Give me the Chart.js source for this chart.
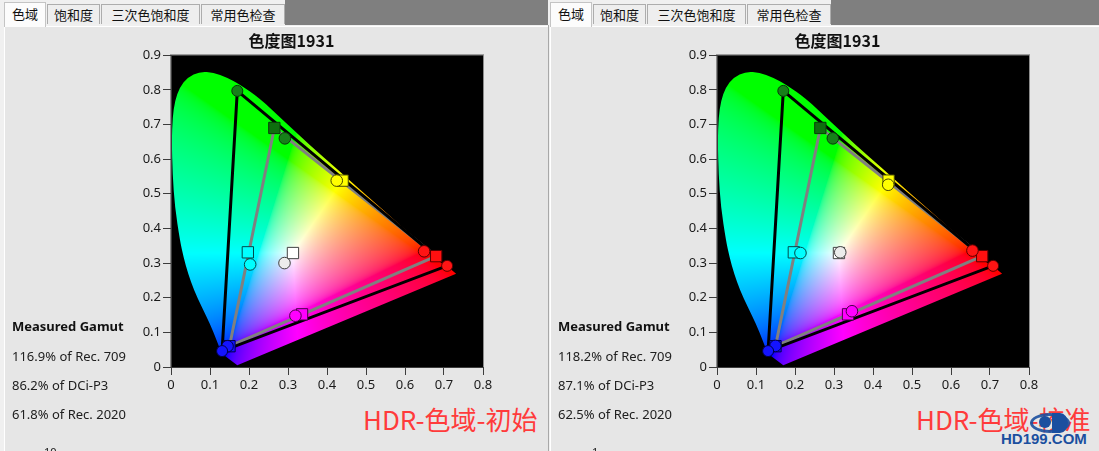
<!DOCTYPE html>
<html>
<head>
<meta charset="utf-8">
<script src="https://cdn.jsdelivr.net/npm/chart.js@4.4.1/dist/chart.umd.min.js"></script>
<style>
body{margin:0;width:1099px;height:451px;overflow:hidden;background:#f0f0f0;position:relative;font-family:"Noto Sans",sans-serif;}
.panel{position:absolute;top:0;width:548px;height:451px;}
.band{position:absolute;left:285px;top:0;width:263px;height:25px;background:#7f7f7f;}
.content{position:absolute;left:4px;top:26px;width:543px;height:425px;background:#e6e6e6;border-left:1px solid #fff;border-top:1px solid #fff;}
.tab{position:absolute;top:4px;height:20px;border:1px solid #adadad;border-bottom:none;background:#eeeeee;font:13px "Noto Sans CJK SC";line-height:20px;text-align:center;color:#111;box-sizing:border-box;}
.tab.sel{top:2px;height:25px;background:#fcfcfc;z-index:2;border-color:#c4c4c4;line-height:21px;}
.stats{position:absolute;left:12px;font-size:13px;color:#202020;line-height:16px;white-space:nowrap;}
.stats.b{font-weight:bold;color:#111;}
.tag{position:absolute;top:406px;font:26px "Noto Sans CJK SC";color:#ff3b3b;line-height:26px;white-space:nowrap;}
.sep{position:absolute;left:548px;top:25px;width:1px;height:426px;background:#a8a8a8;}
canvas{position:absolute;left:100px;top:28px;}
</style>
</head>
<body>

<div class="panel" style="left:0">
  <div class="band"></div>
  <div class="content"></div>
  <div class="tab sel" style="left:4px;width:42px">色域</div>
  <div class="tab" style="left:47px;width:53px">饱和度</div>
  <div class="tab" style="left:101px;width:99px">三次色饱和度</div>
  <div class="tab" style="left:201px;width:84px">常用色检查</div>
  <canvas id="chartLeft" width="416" height="369"></canvas>
  <div class="stats b" style="top:318px">Measured Gamut</div>
  <div class="stats" style="top:348px">116.9% of Rec. 709</div>
  <div class="stats" style="top:377px">86.2% of DCi-P3</div>
  <div class="stats" style="top:406px">61.8% of Rec. 2020</div>
  <div class="stats" style="top:444px;left:44px;font-size:11px">10</div>
  <div class="tag" style="left:363px">HDR-色域-初始</div>
</div>
<div class="sep"></div>

<div class="panel" style="left:546px;width:553px">
  <div class="band" style="width:268px"></div>
  <div class="content" style="width:548px"></div>
  <div class="tab sel" style="left:4px;width:42px">色域</div>
  <div class="tab" style="left:47px;width:53px">饱和度</div>
  <div class="tab" style="left:101px;width:99px">三次色饱和度</div>
  <div class="tab" style="left:201px;width:84px">常用色检查</div>
  <canvas id="chartRight" width="416" height="369"></canvas>
  <div class="stats b" style="top:318px">Measured Gamut</div>
  <div class="stats" style="top:348px">118.2% of Rec. 709</div>
  <div class="stats" style="top:377px">87.1% of DCi-P3</div>
  <div class="stats" style="top:406px">62.5% of Rec. 2020</div>
  <div class="stats" style="top:444px;left:46px;font-size:11px">1</div>
  <div class="tag" style="left:370px">HDR-色域-校准</div>
  <div style="position:absolute;left:484px;top:413px;width:34px;height:14px;border:3px solid #1b4f9f;border-radius:50%;opacity:.9"></div>
  <div style="position:absolute;left:493px;top:416px;width:12px;height:12px;background:#1b4f9f;border-radius:50%"></div>
  <div style="position:absolute;left:506px;top:413px;width:16px;height:20px;background:#1b4f9f;border-radius:0 50% 50% 0/0 50% 50% 0"></div>
  <div style="position:absolute;left:455px;top:430px;font:bold 15px 'Liberation Sans';color:#1b4f9f;white-space:nowrap">HD199.COM</div>
</div>

<script>
// spectral locus (violet end -> top -> red end)
const locusX = [0.170, 0.130, 0.117, 0.100, 0.079, 0.059, 0.044, 0.032, 0.023, 0.010, 0.004, 0.002, 0.004, 0.010, 0.022, 0.042, 0.074, 0.109, 0.143, 0.177, 0.228, 0.288, 0.356, 0.425, 0.502, 0.579, 0.656, 0.731];
const locusY = [0.005, 0.039, 0.077, 0.125, 0.173, 0.221, 0.269, 0.317, 0.365, 0.461, 0.557, 0.653, 0.720, 0.768, 0.807, 0.836, 0.853, 0.850, 0.836, 0.815, 0.775, 0.712, 0.640, 0.572, 0.495, 0.418, 0.341, 0.269];

// Rec.2020 primaries (G, R, B) - black triangle + circles
const rec2020X = [0.170, 0.708, 0.131];
const rec2020Y = [0.797, 0.292, 0.046];
const rec2020Fill = ['#17801a', '#ff1414', '#1414ff'];
const rec2020Edge = ['#083a08', '#5a0000', '#00004a'];

// target points (squares): G, Y, R, C, W, M, B
const targetX = [0.265, 0.440, 0.680, 0.197, 0.3127, 0.336, 0.150];
const targetY = [0.690, 0.538, 0.320, 0.331, 0.329, 0.152, 0.060];
const targetFill = ['#0f6e0f', '#ffff00', '#ff1010', '#00ffff', '#ffffff', '#ff00ff', '#1010ff'];
const markEdge = ['#083a08', '#4a4a00', '#5a0000', '#004a4a', '#404040', '#4a004a', '#00004a'];

// measured points (circles): G, Y, R, C, W, M, B
const measuredLeftX = [0.292, 0.425, 0.649, 0.203, 0.291, 0.319, 0.145];
const measuredLeftY = [0.660, 0.538, 0.334, 0.296, 0.300, 0.148, 0.060];
const measuredRightX = [0.297, 0.439, 0.655, 0.214, 0.316, 0.346, 0.150];
const measuredRightY = [0.660, 0.526, 0.336, 0.329, 0.331, 0.161, 0.061];
const measuredFill = ['#17801a', '#ffff00', '#ff1414', '#00ffff', '#ececec', '#ff00ff', '#1414ff'];

const pts = (xs, ys) => xs.map((v, i) => ({x: v, y: ys[i]}));

function xyToRgb(cx, cy) {
  if (cy < 0.002) cy = 0.002;
  const X = cx / cy, Z = (1 - cx - cy) / cy;
  let r = Math.max(3.2406 * X - 1.5372 - 0.4986 * Z, 0);
  let g = Math.max(-0.9689 * X + 1.8758 + 0.0415 * Z, 0);
  let b = Math.max(0.0557 * X - 0.2040 + 1.0570 * Z, 0);
  const m = Math.max(r, g, b) || 1;
  return [r / m, g / m, b / m].map(v => 255 * (v <= 0.0031308 ? 12.92 * v : 1.055 * Math.pow(v, 1 / 2.4) - 0.055));
}

function makeGamutImage(chart) {
  const a = chart.chartArea, sx = chart.scales.x, sy = chart.scales.y;
  const w = Math.ceil(a.width), h = Math.ceil(a.height);
  const off = document.createElement('canvas');
  off.width = w; off.height = h;
  const octx = off.getContext('2d');
  const img = octx.createImageData(w, h);
  for (let j = 0; j < h; j++) {
    const cy = sy.getValueForPixel(a.top + j + 0.5);
    for (let i = 0; i < w; i++) {
      const cx = sx.getValueForPixel(a.left + i + 0.5);
      const c = xyToRgb(cx, cy);
      const k = (j * w + i) * 4;
      img.data[k] = c[0]; img.data[k + 1] = c[1]; img.data[k + 2] = c[2]; img.data[k + 3] = 255;
    }
  }
  octx.putImageData(img, 0, 0);
  return off;
}

// black plot area + coloured horseshoe, clipped to the locus
const gamutFill = {
  id: 'gamutFill',
  beforeDraw(chart) {
    const {ctx, chartArea: a, scales: {x, y}} = chart;
    ctx.save();
    ctx.fillStyle = '#000';
    ctx.fillRect(a.left, a.top, a.width, a.height);
    ctx.strokeStyle = '#8c8c8c';
    ctx.lineWidth = 1;
    ctx.strokeRect(a.left - 0.5, a.top - 0.5, a.width + 1, a.height + 1);
    if (!chart.$gamut) chart.$gamut = makeGamutImage(chart);
    const p = locusX.map((v, i) => [x.getPixelForValue(v), y.getPixelForValue(locusY[i])]);
    ctx.beginPath();
    ctx.moveTo(p[0][0], p[0][1]);
    for (let i = 1; i < p.length - 1; i++) {
      const mx = (p[i][0] + p[i + 1][0]) / 2, my = (p[i][1] + p[i + 1][1]) / 2;
      if (i === 1) ctx.lineTo(p[1][0], p[1][1]);
      else ctx.quadraticCurveTo(p[i][0], p[i][1], mx, my);
    }
    ctx.lineTo(p[p.length - 1][0], p[p.length - 1][1]);
    ctx.closePath();
    ctx.clip();
    ctx.drawImage(chart.$gamut, a.left, a.top);
    ctx.restore();
  }
};

const tickFont = {family: '"Noto Sans", sans-serif', size: 13};

function makeChart(id, measX, measY) {
  return new Chart(document.getElementById(id), {
    type: 'scatter',
    data: {
      datasets: [
        {
          label: 'Rec.2020',
          data: pts(rec2020X, rec2020Y),
          pointRadius: 5.5,
          pointBackgroundColor: rec2020Fill,
          pointBorderColor: rec2020Edge,
          pointBorderWidth: 1,
          order: 0
        },
        {
          label: 'Measured',
          data: pts(measX, measY),
          pointRadius: 5.8,
          pointBackgroundColor: measuredFill,
          pointBorderColor: markEdge,
          pointBorderWidth: 1,
          order: 1
        },
        {
          label: 'Target',
          data: pts(targetX, targetY),
          pointStyle: 'rect',
          pointRadius: 8,
          pointBackgroundColor: targetFill,
          pointBorderColor: markEdge,
          pointBorderWidth: 1,
          order: 2
        },
        {
          label: 'Rec.2020 gamut',
          data: pts([0, 1, 2, 0].map(i => rec2020X[i]), [0, 1, 2, 0].map(i => rec2020Y[i])),
          showLine: true,
          borderColor: '#000',
          borderWidth: 3,
          pointRadius: 0,
          order: 3
        },
        {
          label: 'Target gamut',
          data: pts([0, 2, 6, 0].map(i => targetX[i]), [0, 2, 6, 0].map(i => targetY[i])),
          showLine: true,
          borderColor: '#808080',
          borderWidth: 3,
          pointRadius: 0,
          order: 4
        }
      ]
    },
    options: {
      responsive: false,
      animation: false,
      events: [],
      layout: {padding: {left: 0, right: 33, top: 0, bottom: 0}},
      plugins: {
        legend: {display: false},
        tooltip: {enabled: false},
        title: {
          display: true,
          text: '色度图1931',
          color: '#111',
          font: {family: '"Noto Sans CJK SC"', size: 16, weight: 'bold'},
          padding: {top: 3, bottom: 5}
        }
      },
      scales: {
        x: {
          type: 'linear', min: 0, max: 0.8,
          ticks: {stepSize: 0.1, color: '#1a1a1a', font: tickFont, padding: 2},
          grid: {drawOnChartArea: false, tickLength: 8, color: '#3c3c3c'},
          border: {color: '#3c3c3c'},
          afterFit(s) { s.height = 30; }
        },
        y: {
          type: 'linear', min: 0, max: 0.9,
          ticks: {stepSize: 0.1, color: '#1a1a1a', font: tickFont, padding: 2},
          grid: {drawOnChartArea: false, tickLength: 8, color: '#3c3c3c'},
          border: {color: '#3c3c3c'},
          afterFit(s) { s.width = 71; }
        }
      }
    },
    plugins: [gamutFill]
  });
}

makeChart('chartLeft', measuredLeftX, measuredLeftY);
makeChart('chartRight', measuredRightX, measuredRightY);
</script>
</body>
</html>
